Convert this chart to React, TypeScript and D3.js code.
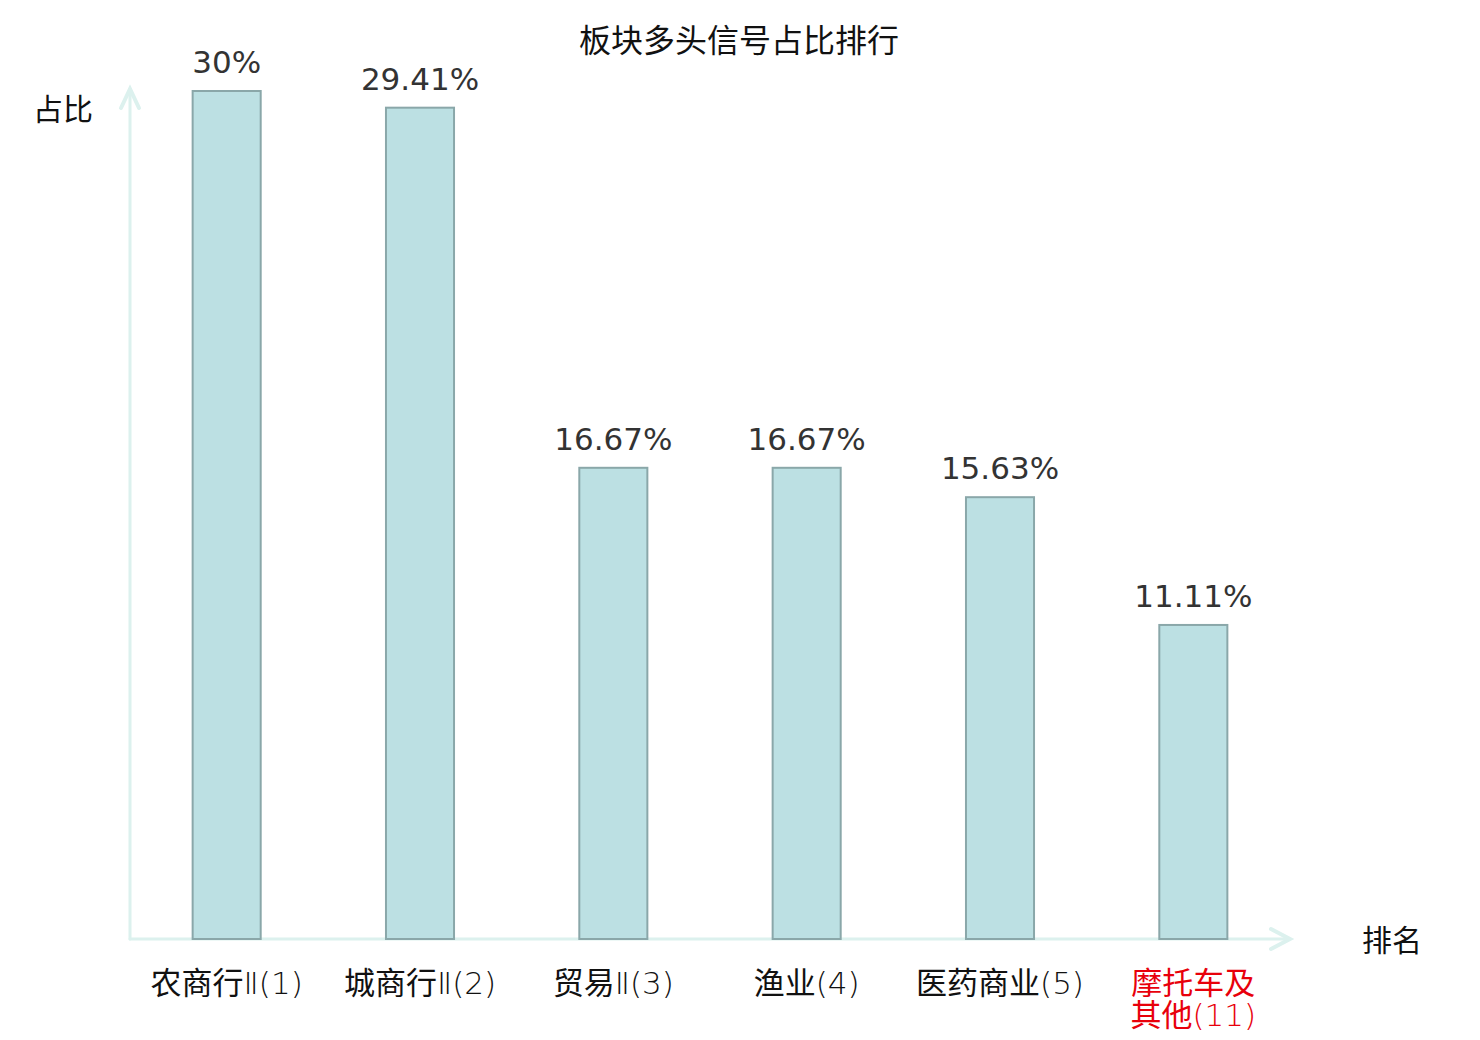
import { useEffect } from "react";
import * as d3 from "d3";

// chart data
const title = "板块多头信号占比排行";
const yName = "占比";
const xName = "排名";
const categories = ["农商行Ⅱ(1)", "城商行Ⅱ(2)", "贸易Ⅱ(3)", "渔业(4)", "医药商业(5)", "摩托车及其他(11)"];
const values = [30, 29.41, 16.67, 16.67, 15.63, 11.11];
const highlightCategory = "摩托车及其他(11)";

const width = 1480;
const height = 1040;
const axisLeft = 130;
const axisRight = 1290;
const axisBottom = 939;
const barTop = 91;

const cjk = "'Noto Sans CJK SC', 'Noto Sans', sans-serif";
const latin = "'DejaVu Sans', sans-serif";
const axisColor = "#dcf1ee";

// long labels wrap after four characters
const wrapLabel = (s: string) => (s.length > 9 ? [s.slice(0, 4), s.slice(4)] : [s]);

// split into runs of CJK / non-CJK so the ascii part gets the thin latin face
const runs = (s: string) => s.match(/[\u4e00-\u9fff]+|[^\u4e00-\u9fff]+/g) ?? [];

const App = () => {
  useEffect(() => {
    document.body.style.margin = "0";
  }, []);

  const x = d3.scaleBand<string>().domain(categories).range([axisLeft, axisRight]).paddingInner(0).paddingOuter(0);
  const y = d3.scaleLinear().domain([0, d3.max(values) ?? 1]).range([axisBottom, barTop]);
  const barWidth = x.bandwidth() * 0.352;

  return (
    <svg width={width} height={height} style={{ display: "block", background: "#fff" }}>
      <text x={739} y={52} textAnchor="middle" fontFamily={cjk} fontSize={32} fill="#111">
        {title}
      </text>

      {/* axes */}
      <g stroke={axisColor} strokeWidth={3} fill="none" strokeLinecap="round">
        <line x1={axisLeft} y1={axisBottom} x2={axisLeft} y2={89} />
        <polyline points={`${axisLeft - 9},${108} ${axisLeft},${89} ${axisLeft + 9},${108}`} strokeWidth={4} />
        <line x1={axisLeft} y1={axisBottom} x2={axisRight} y2={axisBottom} />
        <polyline
          points={`${axisRight - 19},${axisBottom - 10} ${axisRight},${axisBottom} ${axisRight - 19},${axisBottom + 10}`}
          strokeWidth={4}
        />
      </g>
      <text x={63} y={120} textAnchor="middle" fontFamily={cjk} fontSize={30} fill="#111">
        {yName}
      </text>
      <text x={1392} y={951} textAnchor="middle" fontFamily={cjk} fontSize={30} fill="#111">
        {xName}
      </text>

      {/* bars */}
      {categories.map((c, i) => {
        const cx = (x(c) ?? 0) + x.bandwidth() / 2;
        const lines = wrapLabel(c);
        return (
          <g key={c}>
            <rect
              x={cx - barWidth / 2}
              y={y(values[i])}
              width={barWidth}
              height={y(0) - y(values[i])}
              fill="#bce0e3"
              stroke="#8aa7a9"
              strokeWidth={2}
            />
            <text
              x={cx}
              y={y(values[i]) - 18}
              textAnchor="middle"
              fontFamily={latin}
              fontSize={31}
              fill="#333"
            >
              {`${d3.format("~g")(values[i])}%`}
            </text>
            {lines.map((line, j) => (
              <text
                key={j}
                x={cx}
                y={994 + j * 32}
                textAnchor="middle"
                fontFamily={cjk}
                fontSize={31}
                fill={c === highlightCategory ? "#e8000b" : "#111"}
              >
                {runs(line).map((r, k) =>
                  /[\u4e00-\u9fff]/.test(r) ? (
                    <tspan key={k}>{r}</tspan>
                  ) : (
                    <tspan key={k} fontFamily={latin} fontWeight={200}>
                      {r}
                    </tspan>
                  )
                )}
              </text>
            ))}
          </g>
        );
      })}
    </svg>
  );
};

export default App;
